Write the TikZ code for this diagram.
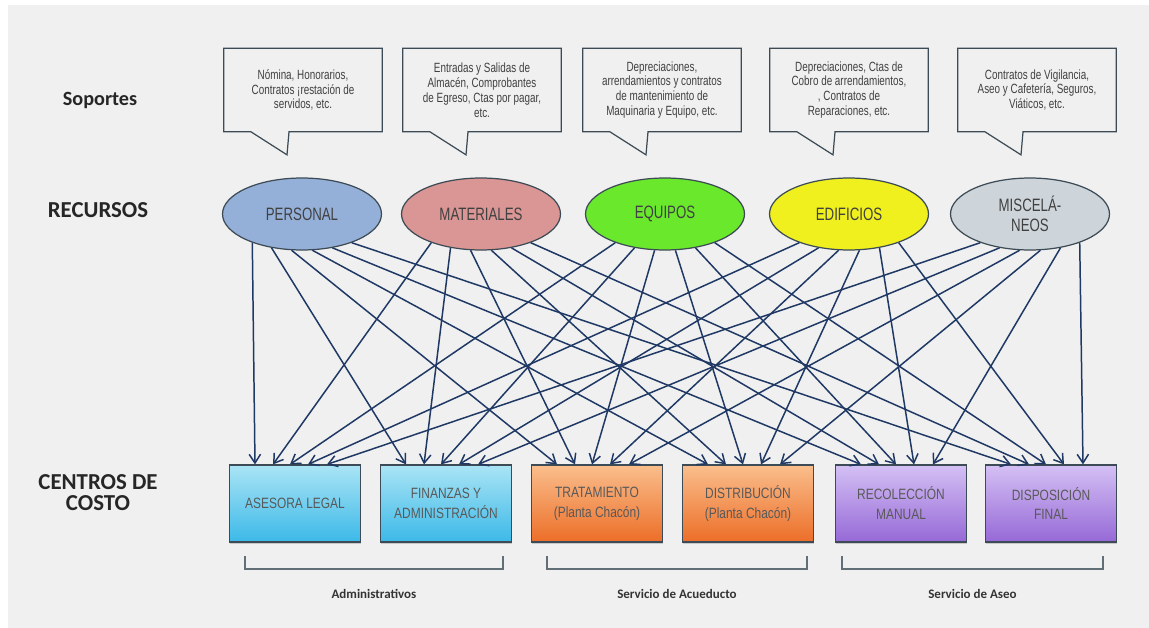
\documentclass[tikz,border=0pt]{standalone}
\usepackage{fontspec}
\setmainfont{Liberation Sans}
\newfontfamily\narrow[FakeStretch=0.8]{Liberation Sans}
\newfontfamily\angosta[FakeStretch=0.74]{Liberation Sans}
\newfontfamily\calib{Carlito}
\usetikzlibrary{shapes.geometric,arrows.meta,calc,shadows}

\definecolor{fondo}{RGB}{240,240,240}
\definecolor{azulosc}{RGB}{31,56,100}
\definecolor{borde}{RGB}{60,75,85}
\definecolor{cpers}{RGB}{149,176,216}
\definecolor{cmat}{RGB}{218,150,148}
\definecolor{cequ}{RGB}{106,232,44}
\definecolor{cedif}{RGB}{240,240,30}
\definecolor{cmisc}{RGB}{205,212,218}
\definecolor{azul1}{RGB}{170,228,245}
\definecolor{azul2}{RGB}{60,185,232}
\definecolor{naranja1}{RGB}{250,190,140}
\definecolor{naranja2}{RGB}{236,110,40}
\definecolor{morado1}{RGB}{212,192,244}
\definecolor{morado2}{RGB}{150,105,215}

\begin{document}
\begin{tikzpicture}[x=0.02cm,y=-0.02cm,
    rotulo/.style={font=\calib\bfseries\fontsize{13}{12}\selectfont,text=black!85,align=center},
    grupo/.style={font=\calib\bfseries\fontsize{7.4}{9}\selectfont,text=black!80},
    globo/.style={minimum width=3.16cm,minimum height=1.66cm,inner sep=0,align=center,
      text=black!75,font=\angosta\fontsize{7.6}{8.5}\selectfont},
    recurso/.style={ellipse,draw=borde,line width=0.7pt,minimum width=3.18cm,minimum height=1.44cm,
      inner sep=0,align=center,font=\angosta\fontsize{10.2}{11.3}\selectfont,text=black!75},
    centro/.style={rectangle,draw=borde,line width=0.7pt,minimum width=2.62cm,minimum height=1.54cm,
      inner sep=0,align=center,font=\narrow\fontsize{8.5}{11.3}\selectfont,text=black!65,
      drop shadow={shadow xshift=0.4pt,shadow yshift=-1.2pt,opacity=.35}},
    flecha/.style={azulosc,line width=0.85pt,-{Straight Barb[length=5pt,width=6.5pt]}},
    llave/.style={draw=borde!80,line width=0.6pt}]
  \fill[white] (0,0) rectangle (1149,628);
  \fill[fondo] (8,5) rectangle (1149,628);
  \useasboundingbox (0,0) rectangle (1149,628);

  % rotulos de la izquierda
  \node[rotulo,font=\calib\bfseries\fontsize{11.5}{12}\selectfont] (tsop) at (100,100) {Soportes};
  \node[rotulo] (trec) at (98,210) {RECURSOS};
  \node[rotulo] (tcen) at (98,493) {CENTROS DE\\COSTO};

  % soportes
  \foreach \n/\x/\t in {1/303/{Nómina, Honorarios,\\Contratos ¡restación de\\servidos, etc.},
      2/482/{Entradas y Salidas de\\Almacén, Comprobantes\\de Egreso, Ctas por pagar,\\etc.},
      3/662/{Depreciaciones,\\arrendamientos y contratos\\de mantenimiento de\\Maquinaria y Equipo, etc.},
      4/849/{Depreciaciones,  Ctas de\\Cobro de arrendamientos,\\, Contratos de\\Reparaciones, etc.},
      5/1037/{Contratos de Vigilancia,\\Aseo y Cafetería, Seguros,\\Viáticos, etc.}}{
    \node[globo] (s\n) at (\x,90) {\t};
    \draw[borde,line width=0.7pt] (s\n.north west) -- (s\n.north east) -- (s\n.south east)
      -- ($(s\n.south)+(-14,0)$) -- ($(s\n.south)+(-16,23)$) -- ($(s\n.south)+(-52,0)$)
      -- (s\n.south west) -- cycle;
  }

  % recursos
  \foreach \n/\x/\c/\t in {pers/302/cpers/PERSONAL, mat/481/cmat/MATERIALES, equ/665/cequ/EQUIPOS,
      edif/849/cedif/EDIFICIOS, misc/1030/cmisc/{MISCELÁ-\\NEOS}}
    \node[recurso,fill=\c] (\n) at (\x,214) {\t};

  % centros de costo
  \foreach \n/\x/\c/\t in {ases/295/azul/{ASESORA LEGAL}, fin/446/azul/{FINANZAS Y\\ADMINISTRACIÓN},
      trat/597/naranja/{TRATAMIENTO\\(Planta Chacón)}, dist/748/naranja/{DISTRIBUCIÓN\\(Planta Chacón)},
      recol/901/morado/{RECOLECCIÓN\\MANUAL}, disp/1051/morado/{DISPOSICIÓN\\FINAL}}
    \node[centro,top color=\c1,bottom color=\c2] (\n) at (\x,503.5) {\t};

  % flechas
  \foreach \src/\o in {pers/-40,mat/-22,equ/-5,edif/13,misc/32}{
    \foreach \dst/\a in {ases/210,fin/228,trat/254,dist/286,recol/312,disp/330}{
      \draw[flecha] (\src.\a) -- ($(\dst.north)+(\o,0)$);
    }
  }

  % grupos
  \foreach \n/\a/\b/\t in {adm/245/503/Administrativos, acu/547/807/{Servicio de Acueducto},
      aseo/842/1103/{Servicio de Aseo}}{
    \draw[llave] (\a,556) -- (\a,569) -- (\b,569) -- (\b,556);
    \node[grupo] (g\n) at ({(\a+\b)/2},594) {\t};
  }
\end{tikzpicture}
\end{document}
